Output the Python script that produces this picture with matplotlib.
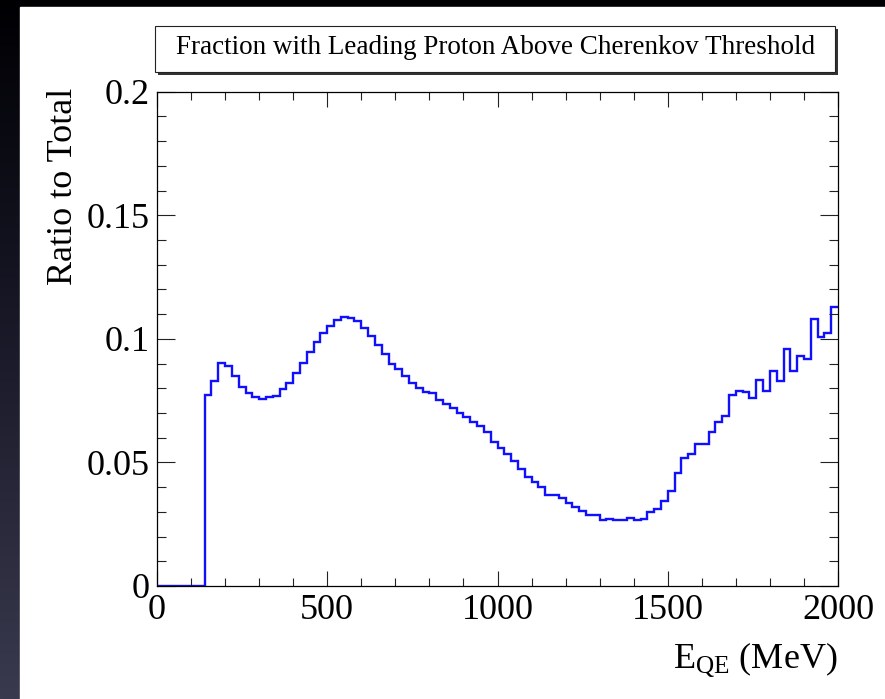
#!/usr/bin/env python3
"""
Fraction of events whose leading proton is above Cherenkov threshold,
as a function of reconstructed E_QE (ROOT-style histogram on a slide).
"""

import numpy as np
import matplotlib

matplotlib.use("Agg")
import matplotlib.pyplot as plt
from matplotlib.colors import LinearSegmentedColormap
from matplotlib.patches import Rectangle
from matplotlib.ticker import MultipleLocator, FuncFormatter


# 20 MeV bins, 0 - 2000 MeV
BIN_WIDTH = 20
E_MIN = 0
E_MAX = 2000

ratio = [
    0.0, 0.0, 0.0, 0.0, 0.0, 0.0, 0.0,
    0.0773, 0.0831, 0.0901, 0.0891, 0.0851, 0.0804, 0.0780, 0.0763,
    0.0755, 0.0765, 0.0769, 0.0798, 0.0823, 0.0861, 0.0901, 0.0948,
    0.0988, 0.1022, 0.1053, 0.1076, 0.1090, 0.1086, 0.1073, 0.1045,
    0.1012, 0.0975, 0.0939, 0.0897, 0.0877, 0.0850, 0.0820, 0.0802,
    0.0786, 0.0780, 0.0753, 0.0736, 0.0719, 0.0699, 0.0683, 0.0665,
    0.0647, 0.0622, 0.0584, 0.0557, 0.0534, 0.0506, 0.0472, 0.0442,
    0.0422, 0.0399, 0.0368, 0.0368, 0.0355, 0.0335, 0.0321, 0.0305,
    0.0287, 0.0287, 0.0267, 0.0270, 0.0267, 0.0267, 0.0276, 0.0267,
    0.0270, 0.0298, 0.0312, 0.0344, 0.0386, 0.0458, 0.0517, 0.0533,
    0.0575, 0.0575, 0.0624, 0.0662, 0.0688, 0.0773, 0.0789, 0.0785,
    0.0759, 0.0833, 0.0790, 0.0871, 0.0831, 0.0959, 0.0871, 0.0932,
    0.0917, 0.1079, 0.1006, 0.1022, 0.1130,
]

x_ticks = [0, 500, 1000, 1500, 2000]
y_ticks = [0, 0.05, 0.1, 0.15, 0.2]

TITLE = "Fraction with Leading Proton Above Cherenkov Threshold"
X_LABEL = r"$\mathrm{E_{QE}}$ (MeV)"
Y_LABEL = "Ratio to Total"

W, H = 885, 699


def px(x, y):
    """image pixel (from top-left) -> figure fraction"""
    return x / W, 1 - y / H


def main() -> None:
    plt.rcParams["font.family"] = ["Liberation Serif", "DejaVu Serif"]
    plt.rcParams["mathtext.fontset"] = "custom"
    plt.rcParams["mathtext.rm"] = "Liberation Serif"

    fig = plt.figure(figsize=(W / 100, H / 100), dpi=100)

    # slide background: dark gradient, white page on top
    bg = fig.add_axes([0, 0, 1, 1], zorder=-10)
    grad = np.linspace(0, 1, 256).reshape(-1, 1)
    cmap = LinearSegmentedColormap.from_list("slide", ["#000003", "#1a1a2a", "#3a3a4e"])
    bg.imshow(grad, aspect="auto", cmap=cmap, extent=[0, 1, 0, 1], origin="upper")
    x0, y0 = px(20, 699)
    bg.add_patch(Rectangle((x0, y0), 1 - x0, px(0, 7)[1] - y0, color="white",
                           transform=bg.transAxes))
    bg.set_xlim(0, 1)
    bg.set_ylim(0, 1)
    bg.axis("off")

    # title box with drop shadow
    bx0, by0 = px(155, 72)
    bx1, by1 = px(835, 26)
    sx, sy = 3 / W, 3 / H
    fig.patches.append(Rectangle((bx0 + sx, by0 - sy), bx1 - bx0, by1 - by0,
                                 transform=fig.transFigure, facecolor="#333333",
                                 edgecolor="none", zorder=1))
    fig.patches.append(Rectangle((bx0, by0), bx1 - bx0, by1 - by0,
                                 transform=fig.transFigure, facecolor="white",
                                 edgecolor="#222222", lw=0.8, zorder=2))
    tx, ty = px(496, 48)
    fig.text(tx, ty, TITLE, ha="center", va="center", fontsize=19.5,
             color="black", zorder=3)

    l, b = px(157, 586)
    r, t = px(838, 91.7)
    ax = fig.add_axes([l, b, r - l, t - b])

    edges = np.arange(E_MIN, E_MAX + BIN_WIDTH, BIN_WIDTH)
    ax.stairs(ratio, edges, baseline=None, color="#1010ff", lw=1.7)

    ax.set_xlim(E_MIN, E_MAX)
    ax.set_ylim(0, 0.2)
    ax.set_xticks(x_ticks)
    ax.set_yticks(y_ticks)
    ax.xaxis.set_minor_locator(MultipleLocator(100))
    ax.yaxis.set_minor_locator(MultipleLocator(0.01))
    ax.yaxis.set_major_formatter(FuncFormatter(lambda v, _: f"{v:g}"))

    ax.tick_params(which="both", direction="in", top=True, right=True,
                   width=0.8, color="#222222", labelsize=26)
    ax.tick_params(axis="x", which="major", length=11, pad=6)
    ax.tick_params(axis="x", which="minor", length=5.5)
    ax.tick_params(axis="y", which="major", length=13, pad=5)
    ax.tick_params(axis="y", which="minor", length=6.5)
    for s in ax.spines.values():
        s.set_linewidth(0.9)

    ax.set_xlabel(X_LABEL, fontsize=26, ha="right", va="center")
    ax.xaxis.set_label_coords(1.0, -0.148)
    ax.set_ylabel(Y_LABEL, fontsize=26, loc="top", va="center")
    ax.yaxis.set_label_coords(-0.137, 1.007)

    fig.savefig("out.png", dpi=100)
    plt.close(fig)


if __name__ == "__main__":
    main()
